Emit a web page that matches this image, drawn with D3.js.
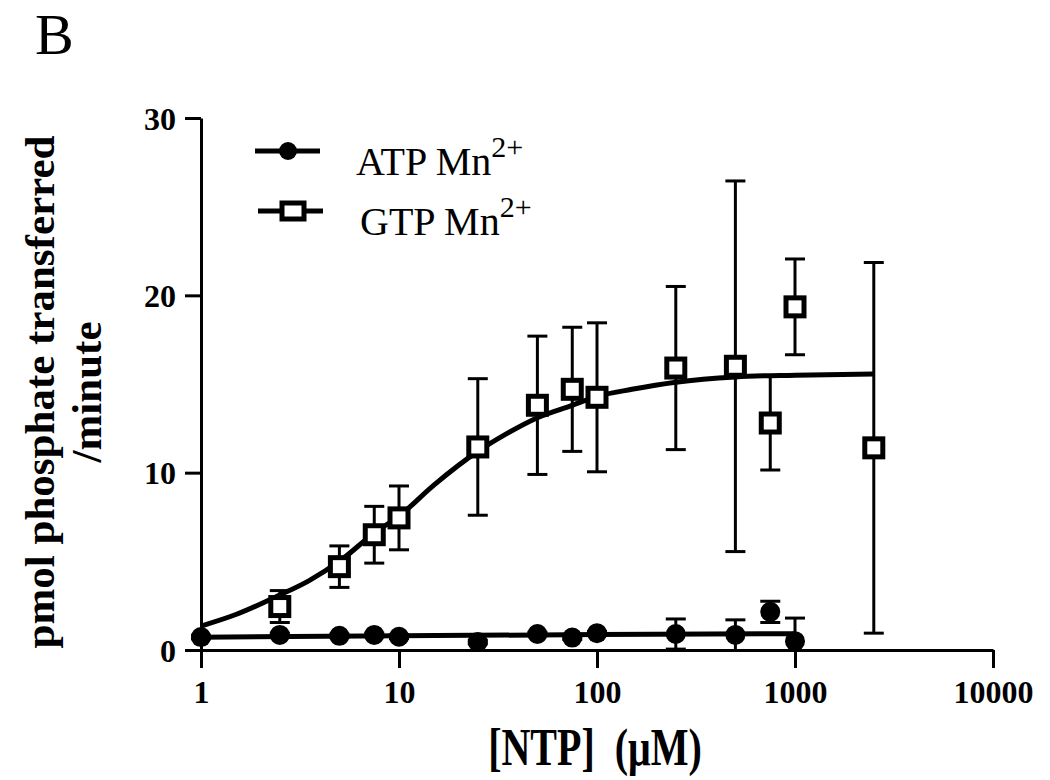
<!DOCTYPE html>
<html>
<head>
<meta charset="utf-8">
<script src="https://cdn.jsdelivr.net/npm/d3@7"></script>
<style>
  html, body { margin: 0; padding: 0; background: #fff; }
  svg { display: block; }
  text { font-family: "Liberation Serif", "Times New Roman", Times, serif; fill: #000; }
</style>
</head>
<body>
<svg id="chart" width="1050" height="780"></svg>
<script>
// ---- Data ----
const concentrations = [1, 2.5, 5, 7.5, 10, 25, 50, 75, 100, 250, 500, 750, 1000];
const atpValues      = [0.73, 0.85, 0.8, 0.85, 0.75, 0.45, 0.9, 0.7, 0.95, 0.9, 0.85, 2.15, 0.5];
const atpErrors      = [0.1, 0.1, 0.1, 0.1, 0.1, 0.1, 0.1, 0.1, 0.1, 0.85, 0.85, 0.6, 1.3];

const gtpConcentrations = [2.5, 5, 7.5, 10, 25, 50, 75, 100, 250, 500, 750, 1000, 2500];
const gtpValues         = [2.45, 4.7, 6.5, 7.45, 11.45, 13.8, 14.7, 14.25, 15.9, 16.0, 12.8, 19.35, 11.4];
const gtpErrors         = [0.9, 1.17, 1.6, 1.8, 3.85, 3.9, 3.5, 4.2, 4.6, 10.45, 2.65, 2.7, 10.45];

// fitted curves as drawn in the figure
const atpFitX = [1, 10, 100, 1000];
const atpFitY = [0.72, 0.8, 0.87, 0.92];
const gtpFitX = [1, 1.5, 2.5, 3.5, 5, 7.5, 10, 15, 25, 35, 50, 75, 100, 150, 250, 500, 1000, 2500];
const gtpFitY = [1.35, 2.0, 3.1, 3.9, 5.0, 6.6, 7.55, 9.3, 11.2, 12.2, 13.1, 13.8, 14.3, 14.7, 15.1, 15.4, 15.5, 15.57];

const xTicks = [1, 10, 100, 1000, 10000];
const yTicks = [0, 10, 20, 30];
const seriesNames = ["ATP Mn", "GTP Mn"];

// ---- Drawing ----
const svg = d3.select("#chart");
const x = d3.scaleLog().domain([1, 10000]).range([201, 993]);
const y = d3.scaleLinear().domain([0, 30]).range([650, 118]);

// Panel letter
svg.append("text").attr("x", 35).attr("y", 54)
  .attr("font-size", 58).text("B");

// Axes
const yAxis = svg.append("g").attr("transform", "translate(201,0)")
  .call(d3.axisLeft(y).tickValues(yTicks).tickSizeInner(16).tickSizeOuter(0).tickPadding(9).tickFormat(d3.format("d")));
const xAxis = svg.append("g").attr("transform", "translate(0,650)")
  .call(d3.axisBottom(x).tickValues(xTicks).tickSizeInner(18).tickSizeOuter(0).tickPadding(12).tickFormat(d3.format("d")));

[xAxis, yAxis].forEach(g => {
  g.select(".domain").attr("stroke", "#000").attr("stroke-width", 3);
  g.selectAll(".tick line").attr("stroke", "#000").attr("stroke-width", 3);
  g.selectAll(".tick text").attr("font-family", "'Liberation Serif', 'Times New Roman', serif")
    .attr("font-size", 32).attr("font-weight", "bold").attr("fill", "#000");
});
yAxis.selectAll(".tick text").attr("dy", "0.35em");

// Axis titles
const yTitle = svg.append("text")
  .attr("transform", "translate(54,392) rotate(-90)")
  .attr("text-anchor", "middle").attr("font-size", 43).attr("font-weight", "bold");
yTitle.append("tspan").attr("x", 0).attr("y", 0).text("pmol phosphate transferred");
yTitle.append("tspan").attr("x", 0).attr("y", 47).text("/minute");

svg.append("text").attr("transform", "translate(595,765) scale(1,1.3)")
  .attr("text-anchor", "middle").attr("font-size", 40).attr("font-weight", "bold")
  .attr("xml:space", "preserve")
  .text("[NTP]  (\u03BCM)");

// Fit curves
const line = d3.line().curve(d3.curveMonotoneX);
svg.append("path")
  .attr("d", line(gtpFitX.map((v, i) => [x(v), y(gtpFitY[i])])))
  .attr("fill", "none").attr("stroke", "#000").attr("stroke-width", 5);
svg.append("path")
  .attr("d", line(atpFitX.map((v, i) => [x(v), y(atpFitY[i])])))
  .attr("fill", "none").attr("stroke", "#000").attr("stroke-width", 5);

// Error bars
function errorBars(xs, vals, errs) {
  const g = svg.append("g").attr("stroke", "#000").attr("stroke-width", 3);
  xs.forEach((c, i) => {
    const cx = x(c);
    const hi = y(vals[i] + errs[i]);
    const lo = y(Math.max(0, vals[i] - errs[i]));
    g.append("line").attr("x1", cx).attr("x2", cx).attr("y1", hi).attr("y2", lo);
    g.append("line").attr("x1", cx - 10).attr("x2", cx + 10).attr("y1", hi).attr("y2", hi);
    if (vals[i] - errs[i] > 0)
      g.append("line").attr("x1", cx - 10).attr("x2", cx + 10).attr("y1", lo).attr("y2", lo);
  });
}
errorBars(gtpConcentrations, gtpValues, gtpErrors);
errorBars(concentrations, atpValues, atpErrors);

// Markers
svg.append("g").selectAll("rect").data(gtpConcentrations).join("rect")
  .attr("x", (d) => x(d) - 9).attr("y", (d, i) => y(gtpValues[i]) - 9)
  .attr("width", 18).attr("height", 18)
  .attr("fill", "#fff").attr("stroke", "#000").attr("stroke-width", 5);
svg.append("g").selectAll("circle").data(concentrations).join("circle")
  .attr("cx", (d) => x(d)).attr("cy", (d, i) => y(atpValues[i]))
  .attr("r", 10).attr("fill", "#000");

// Legend
const leg = svg.append("g");
leg.append("line").attr("x1", 255).attr("x2", 320).attr("y1", 151).attr("y2", 151)
  .attr("stroke", "#000").attr("stroke-width", 5);
leg.append("circle").attr("cx", 288).attr("cy", 151).attr("r", 9).attr("fill", "#000");
leg.append("line").attr("x1", 258).attr("x2", 323).attr("y1", 211).attr("y2", 211)
  .attr("stroke", "#000").attr("stroke-width", 5);
leg.append("rect").attr("x", 282).attr("y", 203).attr("width", 22).attr("height", 16)
  .attr("fill", "#fff").attr("stroke", "#000").attr("stroke-width", 5);

const legY = [175, 235];
seriesNames.forEach((name, i) => {
  const t = leg.append("text").attr("x", i === 0 ? 356 : 360).attr("y", legY[i]).attr("font-size", 40);
  t.append("tspan").text(name);
  t.append("tspan").attr("dy", -18).attr("font-size", 30).text("2+");
});
</script>
</body>
</html>
